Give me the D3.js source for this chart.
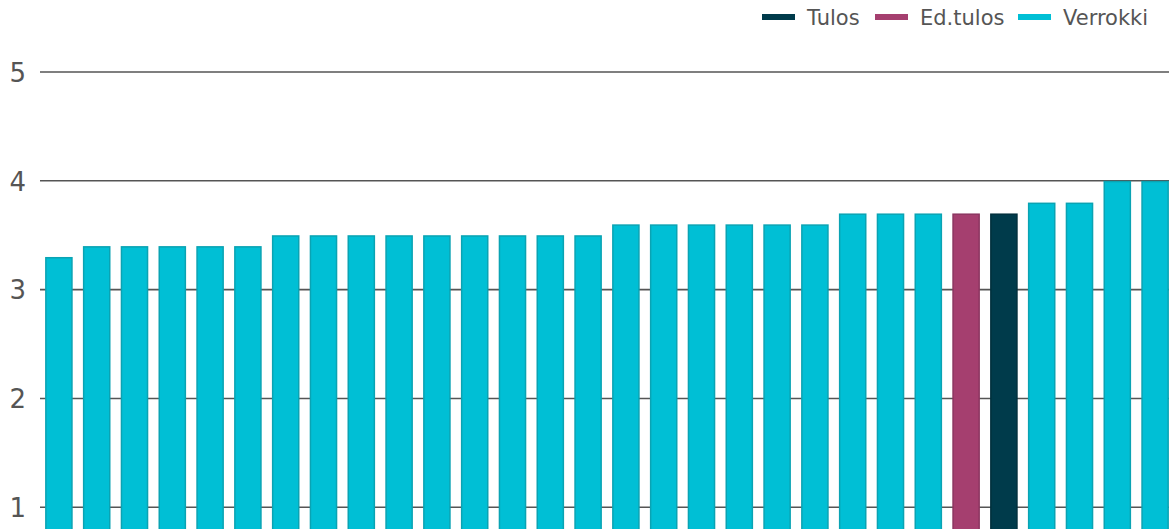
<!DOCTYPE html>
<html>
<head>
<meta charset="utf-8">
<script src="https://cdn.jsdelivr.net/npm/d3@7"></script>
<style>
  html, body { margin: 0; padding: 0; background: #fff; overflow: hidden; }
  svg { display: block; font-family: "DejaVu Sans", sans-serif; }
</style>
</head>
<body>
<div id="chart"></div>
<script>
// bars in drawing order, left to right
const categories = d3.range(1, 31).map(i => 'c' + i);
const values = [3.3, 3.4, 3.4, 3.4, 3.4, 3.4,
    3.5, 3.5, 3.5, 3.5, 3.5, 3.5, 3.5, 3.5, 3.5,
    3.6, 3.6, 3.6, 3.6, 3.6, 3.6,
    3.7, 3.7, 3.7, 3.7, 3.7,
    3.8, 3.8, 4.0, 4.0];
const groups = ['Verrokki', 'Verrokki', 'Verrokki', 'Verrokki', 'Verrokki', 'Verrokki',
    'Verrokki', 'Verrokki', 'Verrokki', 'Verrokki', 'Verrokki', 'Verrokki', 'Verrokki', 'Verrokki', 'Verrokki',
    'Verrokki', 'Verrokki', 'Verrokki', 'Verrokki', 'Verrokki', 'Verrokki',
    'Verrokki', 'Verrokki', 'Verrokki', 'Ed.tulos', 'Tulos',
    'Verrokki', 'Verrokki', 'Verrokki', 'Verrokki'];
const yTicks = [1, 2, 3, 4, 5];
const legendItems = ['Tulos', 'Ed.tulos', 'Verrokki'];

const fillColors = { 'Tulos': '#003b4b', 'Ed.tulos': '#a53f6f', 'Verrokki': '#00bfd5' };
const strokeColors = { 'Tulos': '#00303d', 'Ed.tulos': '#8c3560', 'Verrokki': '#0aa3b3' };

const width = 1169, height = 529;
const data = categories.map((c, i) => ({ cat: c, value: values[i], group: groups[i] }));

const svg = d3.select('#chart').append('svg')
    .attr('width', width)
    .attr('height', height);

const x = d3.scaleBand()
    .domain(categories)
    .range([40, 1174])
    .paddingInner(0.27)
    .paddingOuter(0.135);

const y = d3.scaleLinear()
    .domain([0.8, 5])
    .range([529, 72]);

// gridlines + tick labels
const yAxis = svg.append('g')
    .attr('transform', 'translate(40,0)')
    .call(d3.axisLeft(y).tickValues(yTicks).tickSize(0).tickPadding(14).tickFormat(d3.format('d')));
yAxis.select('.domain').remove();
yAxis.selectAll('text')
    .attr('fill', '#555')
    .attr('font-size', 26)
    .attr('dy', '0.36em')
    .attr('font-family', '"DejaVu Sans", sans-serif');

svg.append('g')
    .selectAll('line')
    .data(yTicks)
    .join('line')
    .attr('x1', 40)
    .attr('x2', width)
    .attr('y1', d => y(d))
    .attr('y2', d => y(d))
    .attr('stroke', '#555')
    .attr('stroke-width', 1.6);

// bars
svg.append('g')
    .selectAll('rect')
    .data(data)
    .join('rect')
    .attr('x', d => x(d.cat) + 0.75)
    .attr('y', d => y(d.value) + 0.75)
    .attr('width', x.bandwidth() - 1.5)
    .attr('height', d => y(0.8) - y(d.value))
    .attr('fill', d => fillColors[d.group])
    .attr('stroke', d => strokeColors[d.group])
    .attr('stroke-width', 1.5);

// legend
const legendX = [762, 875, 1018];
const legend = svg.append('g')
    .selectAll('g')
    .data(legendItems)
    .join('g')
    .attr('transform', (d, i) => `translate(${legendX[i]},17)`);

legend.append('rect')
    .attr('x', 0)
    .attr('y', -3)
    .attr('width', 33)
    .attr('height', 6)
    .attr('fill', d => fillColors[d]);

legend.append('text')
    .attr('x', 45)
    .attr('y', 0)
    .attr('dy', '0.36em')
    .attr('font-size', 21)
    .attr('fill', '#555')
    .text(d => d);
</script>
</body>
</html>
